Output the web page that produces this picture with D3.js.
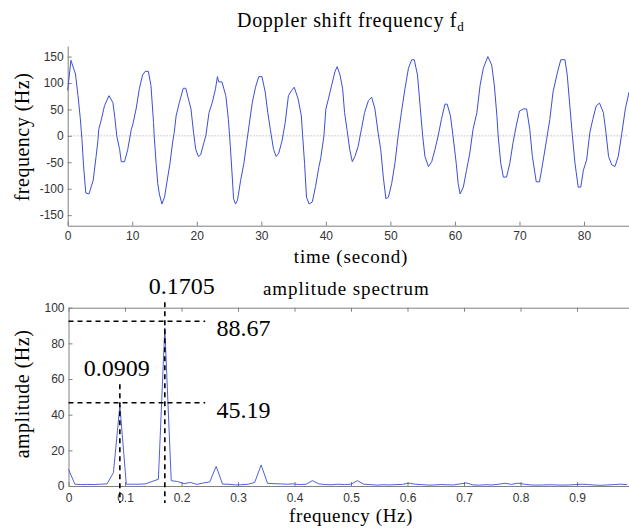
<!DOCTYPE html>
<html>
<head>
<meta charset="utf-8">
<script src="https://cdn.jsdelivr.net/npm/d3@7"></script>
<style>
  body { margin: 0; background: #fff; }
  .tick text { font-family: "Liberation Sans", Arial, sans-serif; font-size: 12px; fill: #333; }
  .tick line, .domain { stroke: #808080; }
  .lbl { font-family: "Liberation Serif", "Times New Roman", serif; fill: #000; }
</style>
</head>
<body>
<svg class="face" width="629" height="528"></svg>
<script>
// top panel: doppler shift vs time
const timeSec = [0,0.5,1.2,1.6,1.95,2.2,2.45,2.8,3.3,3.95,4.4,4.7,4.8,5.2,5.7,6.4,7.0,7.3,7.6,8.05,8.3,8.8,9.3,9.85,10.1,10.6,11.1,11.6,12.0,12.5,12.9,13.3,13.4,13.7,13.95,14.2,14.6,15.0,15.5,15.85,16.25,16.5,16.8,17.3,17.9,18.3,18.7,19.1,19.5,19.85,20.25,20.6,21.1,21.4,21.9,22.4,22.9,23.2,23.4,23.9,24.5,24.9,25.2,25.5,25.7,26.0,26.3,26.8,27.3,27.8,28.6,29.1,29.6,30.1,30.6,31.0,31.4,31.9,32.3,32.7,33.2,33.7,34.2,34.7,35.1,35.7,36.2,36.4,36.7,37.0,37.4,37.9,38.4,38.9,39.2,39.7,40.0,40.4,40.9,41.4,41.75,42.2,42.6,42.9,43.3,43.7,44.1,44.5,45.0,45.5,46.0,46.6,47.1,47.6,48.1,48.5,48.9,49.3,49.7,50.2,50.7,51.2,51.7,52.25,52.8,53.3,53.7,54.2,54.6,55.0,55.35,55.9,56.4,56.9,57.4,57.9,58.45,58.8,59.3,59.7,60.2,60.5,60.8,61.3,61.8,62.3,62.8,63.4,63.9,64.4,65.1,65.7,66.1,66.5,66.7,67.1,67.5,68.0,68.5,69.0,69.5,70.0,70.6,71.1,71.6,72.0,72.6,73.1,73.6,74.2,74.7,75.2,75.9,76.4,77.05,77.4,77.8,78.2,78.6,79.1,79.5,79.9,80.4,80.9,81.35,81.9,82.4,83.0,83.4,83.8,84.3,84.8,85.3,85.8,86.4,86.98];
const dopplerHz = [86,143,117,76,33,-5,-55,-108,-110,-84,-39,-7,12,30,57,76,63,35,0,-26,-49,-49,-26,12,22,51,89,115,122,122,95,25,0,-52,-90,-110,-129,-116,-78,-52,-13,6,38,63,90,90,70,51,6,-26,-39,-36,-13,0,44,63,89,112,102,102,76,31,-20,-78,-119,-129,-122,-84,-52,-7,63,92,112,112,83,44,12,-26,-39,-33,-10,25,76,86,92,70,38,0,-52,-116,-129,-125,-96,-60,-43,0,51,70,96,121,131,115,89,44,10,-26,-49,-39,-20,12,44,67,73,51,6,-26,-78,-119,-116,-90,-52,0,44,89,128,144,144,115,57,0,-39,-58,-49,-26,0,31,60,60,38,0,-52,-90,-110,-97,-65,-33,12,44,96,128,150,134,96,38,0,-52,-78,-78,-52,-13,19,47,51,51,12,-39,-87,-87,-52,-7,31,83,121,144,144,115,57,0,-52,-97,-97,-65,-46,6,31,57,62,44,6,-39,-55,-58,-39,0,51,83];
const timeTicks = [0,10,20,30,40,50,60,70,80];
const dopplerTicks = [-150,-100,-50,0,50,100,150];

// bottom panel: amplitude spectrum, one value per bin of width 1/88 Hz
const binWidth = 1 / 88;
const spectrumAmp = [9.3,1.0,0.8,0.9,0.8,1.0,1.2,7.5,45.19,1.0,1.0,1.0,1.2,2.5,3.8,88.67,3.0,2.5,1.3,2.0,0.9,1.7,2.3,11.0,1.0,1.0,0.6,0.7,1.0,2.0,11.8,1.5,1.3,1.2,1.0,1.2,0.8,1.0,3.0,1.2,0.8,0.7,1.0,0.8,1.0,3.0,1.0,0.8,0.5,0.7,0.6,0.8,0.9,1.6,1.0,0.8,0.5,0.6,0.8,0.7,0.6,1.2,1.7,0.6,0.5,0.7,0.6,1.0,1.5,0.9,1.6,1.0,0.6,0.5,0.6,0.7,0.6,0.5,0.6,0.8,1.0,0.8,0.5,0.4,0.6,0.8,1.0,0.8];
const freqTicks = [0,0.1,0.2,0.3,0.4,0.5,0.6,0.7,0.8,0.9];
const ampTicks = [0,20,40,60,80,100];

// peak annotations
const peakFreq = [0.0909, 0.1705];
const peakLabel = ['45.19', '88.67'];
const guideLevel = [46.7, 92.4];
const guideTop = [57, 103];

const svg = d3.select('.face');
const blue = '#3b4fd6';

// ---- top panel
const x1 = d3.scaleLinear().domain([0, 87]).range([67.7, 629.2]);
const y1 = d3.scaleLinear().domain([-170, 170]).range([225.7, 46]);

const upper = svg.append('g');
upper.append('g')
  .attr('transform', `translate(0,${y1.range()[0]})`)
  .call(d3.axisBottom(x1).tickValues(timeTicks).tickSize(-4).tickSizeOuter(0).tickPadding(6)
    .tickFormat(d => String(d)));
upper.append('g')
  .attr('transform', `translate(${x1.range()[0]},0)`)
  .call(d3.axisLeft(y1).tickValues(dopplerTicks).tickSize(-4).tickSizeOuter(0).tickPadding(4)
    .tickFormat(d => String(d)));

upper.append('line')
  .attr('x1', x1(0)).attr('x2', x1.range()[1])
  .attr('y1', y1(0)).attr('y2', y1(0))
  .attr('stroke', '#8a8a8a').attr('stroke-width', 0.8).attr('stroke-dasharray', '1,2');

const line1 = d3.line().x((d, i) => x1(timeSec[i])).y(d => y1(d));
upper.append('path')
  .datum(dopplerHz)
  .attr('d', line1)
  .attr('fill', 'none').attr('stroke', blue).attr('stroke-width', 1);

const title1 = svg.append('text').attr('class', 'lbl')
  .attr('x', 237).attr('y', 27).attr('font-size', 20).attr('letter-spacing', 0.7);
title1.append('tspan').text('Doppler shift frequency f');
title1.append('tspan').attr('font-size', 13).attr('dy', 4).text('d');

svg.append('text').attr('class', 'lbl')
  .attr('x', 351).attr('y', 263).attr('text-anchor', 'middle').attr('font-size', 19).attr('letter-spacing', 0.8)
  .text('time (second)');
svg.append('text').attr('class', 'lbl')
  .attr('transform', 'translate(29,137) rotate(-90)').attr('text-anchor', 'middle')
  .attr('font-size', 20).attr('letter-spacing', 0.5)
  .text('frequency (Hz)');

// ---- bottom panel
const x2 = d3.scaleLinear().domain([0, 1]).range([68.5, 633.5]);
const y2 = d3.scaleLinear().domain([0, 100]).range([486, 307.7]);

const lower = svg.append('g');
lower.append('g')
  .attr('transform', `translate(0,${y2(0)})`)
  .call(d3.axisBottom(x2).tickValues(freqTicks).tickSize(-4).tickSizeOuter(0).tickPadding(7)
    .tickFormat(d => String(d)));
lower.append('g')
  .attr('transform', `translate(0,${y2(100)})`)
  .call(d3.axisTop(x2).tickValues(freqTicks).tickSize(-4).tickSizeOuter(0).tickFormat(''));
lower.append('g')
  .attr('transform', `translate(${x2(0)},0)`)
  .call(d3.axisLeft(y2).tickValues(ampTicks).tickSize(-4).tickSizeOuter(0).tickPadding(4)
    .tickFormat(d => String(d)));
lower.append('g')
  .attr('transform', `translate(${x2(1)},0)`)
  .call(d3.axisRight(y2).tickValues(ampTicks).tickSize(-4).tickSizeOuter(0).tickFormat(''));

const line2 = d3.line().x((d, i) => x2(i * binWidth)).y(d => y2(d));
lower.append('path')
  .datum(spectrumAmp)
  .attr('d', line2)
  .attr('fill', 'none').attr('stroke', blue).attr('stroke-width', 0.9);

// dashed guides
const dash = g => g.attr('stroke', '#000').attr('stroke-width', 1.6).attr('stroke-dasharray', '5,4').attr('fill', 'none');
peakFreq.forEach((f, i) => {
  lower.append('line')
    .attr('x1', x2(f)).attr('x2', x2(f))
    .attr('y1', y2(guideTop[i])).attr('y2', y2(-9.5))
    .call(dash);
  lower.append('line')
    .attr('x1', x2(0)).attr('x2', x2(0.242))
    .attr('y1', y2(guideLevel[i])).attr('y2', y2(guideLevel[i]))
    .call(dash);
  lower.append('text').attr('class', 'lbl')
    .attr('x', x2(0.262)).attr('y', y2(guideLevel[i]) + 15).attr('font-size', 24)
    .text(peakLabel[i]);
  lower.append('text').attr('class', 'lbl')
    .attr('x', x2(f) + (i === 0 ? -3 : 17)).attr('y', y2(guideTop[i]) - 8)
    .attr('text-anchor', 'middle').attr('font-size', 24)
    .text(String(f));
});

svg.append('text').attr('class', 'lbl')
  .attr('x', 263).attr('y', 295).attr('font-size', 19).attr('letter-spacing', 0.9)
  .text('amplitude spectrum');
svg.append('text').attr('class', 'lbl')
  .attr('x', 351).attr('y', 522).attr('text-anchor', 'middle').attr('font-size', 19).attr('letter-spacing', 0.6)
  .text('frequency (Hz)');
svg.append('text').attr('class', 'lbl')
  .attr('transform', 'translate(29,394) rotate(-90)').attr('text-anchor', 'middle')
  .attr('font-size', 20).attr('letter-spacing', 0.5)
  .text('amplitude (Hz)');
</script>
</body>
</html>
